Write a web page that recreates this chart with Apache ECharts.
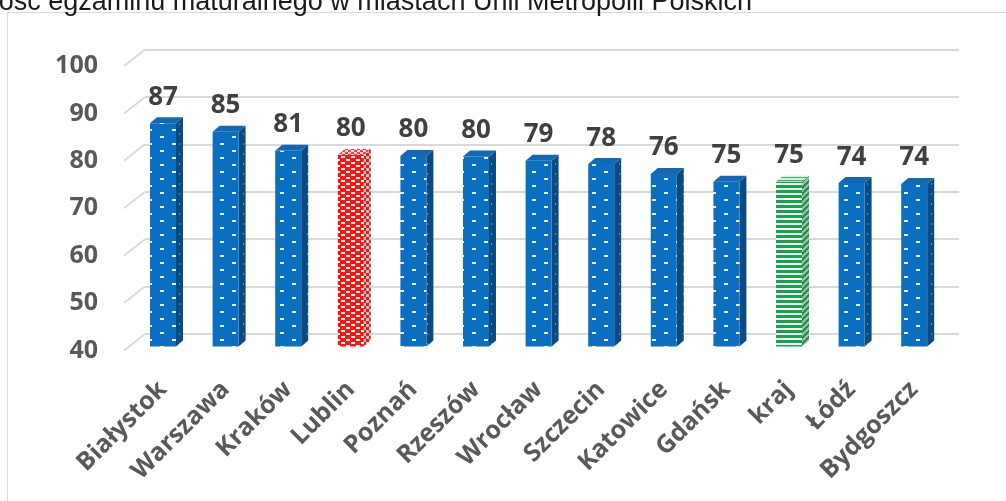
<!DOCTYPE html>
<html><head><meta charset="utf-8">
<script src="https://cdn.jsdelivr.net/npm/echarts@6/dist/echarts.min.js"></script>
<style>html,body{margin:0;padding:0;background:#fff;}#c{width:1006px;height:501px;}</style>
</head><body><div id="c"></div>
<script>
const titleText = 'Zdawalność egzaminu maturalnego w miastach Unii Metropolii Polskich';
const categories = ['Białystok','Warszawa','Kraków','Lublin','Poznań','Rzeszów','Wrocław','Szczecin','Katowice','Gdańsk','kraj','Łódź','Bydgoszcz'];
const values = [87.0, 85.2, 81.2, 80.3, 80.1, 80.0, 79.1, 78.4, 76.3, 74.7, 74.7, 74.4, 74.2];
const yTicks = [40, 50, 60, 70, 80, 90, 100];
const highlight = { 'Lublin': 'red', 'kraj': 'green' };

const yMin = 40, yMax = 100, yStep = 10;
const FONT = '"Open Sans", "DejaVu Sans", sans-serif';

function makePattern(w, h, bg, draw) {
  const c = document.createElement('canvas');
  c.width = w; c.height = h;
  const g = c.getContext('2d');
  g.fillStyle = bg; g.fillRect(0, 0, w, h);
  if (draw) draw(g);
  return { image: c, repeat: 'repeat' };
}
const pats = {
  blue: {
    front: makePattern(24, 14, '#0B6FC1', g => { g.fillStyle = 'rgba(255,255,255,0.92)'; g.fillRect(4, 3, 4, 2); g.fillRect(16, 10, 4, 2); }),
    side: makePattern(8, 10, '#0A4A82', g => { g.fillStyle = 'rgba(170,200,230,0.55)'; g.fillRect(3, 3, 1, 2); }),
    top: '#1467B3'
  },
  red: {
    front: makePattern(10, 6, '#FF1414', g => { g.fillStyle = '#ffffff'; g.fillRect(1, 0, 4, 2); g.fillRect(6, 3, 4, 2); }),
    side: makePattern(6, 6, '#D42020', g => { g.fillStyle = '#C9C0C0'; g.fillRect(0, 0, 3, 3); g.fillRect(3, 3, 3, 3); }),
    top: makePattern(6, 4, '#F04040', g => { g.fillStyle = '#f4dada'; g.fillRect(0, 0, 3, 2); g.fillRect(3, 2, 3, 2); })
  },
  green: {
    front: makePattern(4, 5, '#ffffff', g => { g.fillStyle = '#12A84A'; g.fillRect(0, 0, 4, 3); }),
    side: makePattern(6, 6, '#A9BDB0', g => { g.strokeStyle = '#119140'; g.lineWidth = 2; g.beginPath(); g.moveTo(-1, 7); g.lineTo(7, -1); g.moveTo(-4, 4); g.lineTo(4, -4); g.moveTo(2, 10); g.lineTo(10, 2); g.stroke(); }),
    top: makePattern(4, 3, '#d8eedd', g => { g.fillStyle = '#3DB86A'; g.fillRect(0, 0, 4, 1); })
  }
};

const chart = echarts.init(document.getElementById('c'), null, { renderer: 'canvas' });

const option = {
  animation: false,
  backgroundColor: '#ffffff',
  graphic: [
    { type: 'rect', z: 0, shape: { x: 7.5, y: 12.5, width: 1010, height: 520 }, style: { fill: 'none', stroke: '#D9D9D9', lineWidth: 1 } },
    { type: 'text', z: 5, style: { x: 752, y: 3, text: titleText, align: 'right', verticalAlign: 'middle', font: '27px "Liberation Sans", Arial, sans-serif', fill: '#1a1a1a' } }
  ],
  grid: [
    { left: 131.7, right: 60.5, top: 61.5, bottom: 154.5 },
    { left: 145, right: 47, top: 49.5, bottom: 167 },
    { left: 124, right: 861, top: 66, bottom: 150.5 }
  ],
  xAxis: [
    {
      gridIndex: 0, type: 'category', data: categories,
      axisLine: { show: false }, axisTick: { show: false },
      axisLabel: { rotate: 45, margin: 39, interval: 0, fontFamily: FONT, fontWeight: 'bold', fontSize: 25, color: '#595959' }
    },
    { gridIndex: 1, type: 'value', min: 0, max: 1, show: false },
    { gridIndex: 2, type: 'value', min: 0, max: 1, show: false }
  ],
  yAxis: [
    { gridIndex: 0, type: 'value', min: yMin, max: yMax, interval: yStep, show: false },
    {
      gridIndex: 1, type: 'value', min: yMin, max: yMax, interval: yStep,
      axisLine: { show: false }, axisTick: { show: false }, axisLabel: { show: false },
      splitLine: { show: true, lineStyle: { color: '#D9D9D9', width: 2 } }
    },
    {
      gridIndex: 2, type: 'value', min: yMin, max: yMax, interval: yStep,
      axisLine: { show: false }, axisTick: { show: false }, splitLine: { show: false },
      axisLabel: { margin: 26, fontFamily: FONT, fontWeight: 'bold', fontSize: 25, color: '#595959' }
    }
  ],
  series: [
    {
      type: 'custom', xAxisIndex: 1, yAxisIndex: 1, z: 1, silent: true,
      data: yTicks.map(v => [0, v]),
      renderItem: function (params, api) {
        const p = api.coord([0, api.value(1)]);
        return { type: 'line', shape: { x1: p[0], y1: p[1], x2: p[0] - 21, y2: p[1] + 16.5 }, style: { stroke: '#D9D9D9', lineWidth: 2 } };
      }
    },
    {
      type: 'custom', xAxisIndex: 0, yAxisIndex: 0, z: 5, silent: true,
      data: values.map((v, i) => [i, v]),
      encode: { x: 0, y: 1 },
      renderItem: function (params, api) {
        const i = api.value(0), v = api.value(1);
        const base = api.coord([i, yMin]);
        const top = api.coord([i, v]);
        const bw = api.size([1, 0])[0] * 0.415;
        const x0 = top[0] - bw / 2, x1 = top[0] + bw / 2;
        const yt = top[1], yb = base[1];
        const dx = 7, dy = -6;
        const p = pats[highlight[categories[i]] || 'blue'];
        return {
          type: 'group', children: [
            { type: 'polygon', shape: { points: [[x1, yb], [x1, yt], [x1 + dx, yt + dy], [x1 + dx, yb + dy]] }, style: { fill: p.side } },
            { type: 'polygon', shape: { points: [[x0, yt], [x0 + dx, yt + dy], [x1 + dx, yt + dy], [x1, yt]] }, style: { fill: p.top } },
            { type: 'rect', shape: { x: x0, y: yt, width: bw, height: yb - yt }, style: { fill: p.front } },
            { type: 'text', style: { x: top[0], y: yt - 26, text: String(Math.round(v)), align: 'center', verticalAlign: 'middle', font: 'bold 26px ' + FONT, fill: '#404040' } }
          ]
        };
      }
    }
  ]
};
chart.setOption(option);
</script>
</body></html>
